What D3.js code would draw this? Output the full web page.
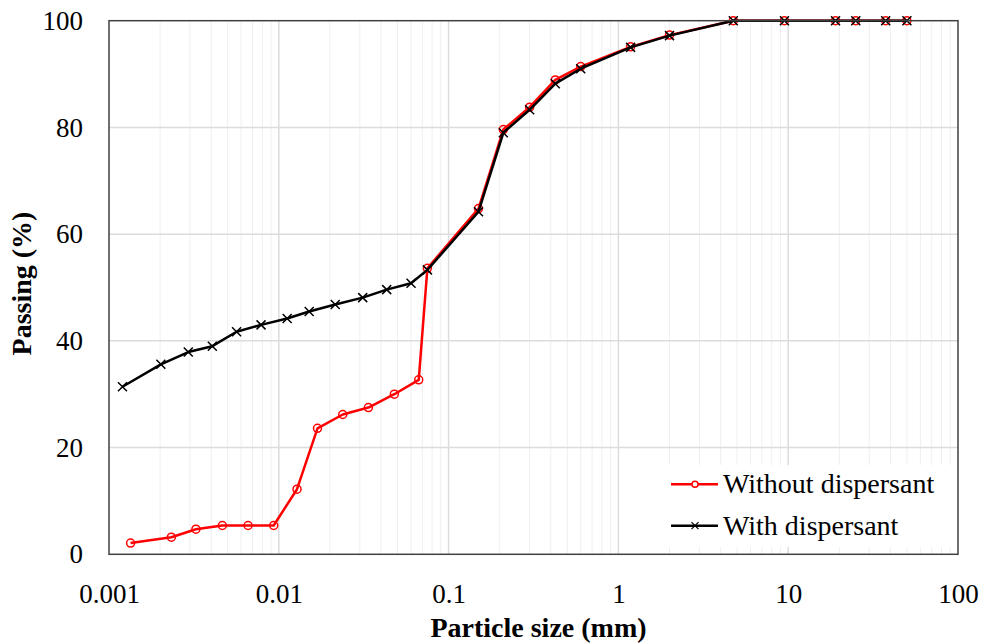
<!DOCTYPE html>
<html>
<head>
<meta charset="utf-8">
<script src="https://cdn.jsdelivr.net/npm/d3@7"></script>
<style>
  html, body { margin: 0; padding: 0; background: #fff; }
  svg { display: block; }
  text { font-family: "Liberation Serif", "Times New Roman", serif; fill: #000; }
</style>
</head>
<body>
<svg id="chart" width="984" height="644"></svg>
<script>
// ---- data ----
const seriesNames = ["Without dispersant", "With dispersant"];
const sizeWithout = [0.00134, 0.00233, 0.00325, 0.00465, 0.00659, 0.00933, 0.0128, 0.0169, 0.0238, 0.0337, 0.0479, 0.0667, 0.075, 0.15, 0.21, 0.3, 0.425, 0.6, 1.18, 2.0, 4.75, 9.5, 19, 25, 37.5, 50];
const passWithout = [2.1, 3.2, 4.7, 5.4, 5.4, 5.4, 12.2, 23.6, 26.2, 27.5, 30.0, 32.7, 53.6, 64.8, 79.6, 83.8, 88.9, 91.4, 95.1, 97.3, 100, 100, 100, 100, 100, 100];
const sizeWith = [0.0012, 0.00202, 0.00293, 0.00406, 0.00564, 0.00786, 0.0112, 0.0151, 0.0215, 0.0312, 0.0432, 0.0601, 0.075, 0.15, 0.21, 0.3, 0.425, 0.6, 1.18, 2.0, 4.75, 9.5, 19, 25, 37.5, 50];
const passWith = [31.4, 35.6, 37.9, 39.0, 41.7, 43.0, 44.2, 45.5, 46.8, 48.1, 49.6, 50.8, 53.3, 64.2, 79.0, 83.3, 88.2, 91.0, 95.0, 97.2, 100, 100, 100, 100, 100, 100];
const xTicks = [0.001, 0.01, 0.1, 1, 10, 100];
const xTickLabels = ["0.001", "0.01", "0.1", "1", "10", "100"];
const yTicks = [0, 20, 40, 60, 80, 100];
const xTitle = "Particle size (mm)";
const yTitle = "Passing (%)";

// ---- layout ----
const L = 109, R = 958, T = 20.7, B = 554.3;
const FONT = "'Liberation Serif', 'Times New Roman', serif";
const svg = d3.select("#chart");

const x = d3.scaleLog().domain([0.001, 100]).range([L, R]);
const y = d3.scaleLinear().domain([0, 100]).range([B, T]);

// minor grid
const minor = [];
for (let d = 0.001; d < 100; d *= 10) for (let k = 2; k <= 9; k++) minor.push(d * k);
svg.append("g").selectAll("line").data(minor).join("line")
  .attr("x1", d => x(d)).attr("x2", d => x(d)).attr("y1", T).attr("y2", B)
  .attr("stroke", "#efefef").attr("stroke-width", 1);
// major grid
svg.append("g").selectAll("line").data(xTicks.slice(1, -1)).join("line")
  .attr("x1", d => x(d)).attr("x2", d => x(d)).attr("y1", T).attr("y2", B)
  .attr("stroke", "#dcdcdc").attr("stroke-width", 1.5);
svg.append("g").selectAll("line").data(yTicks.slice(1, -1)).join("line")
  .attr("y1", d => y(d)).attr("y2", d => y(d)).attr("x1", L).attr("x2", R)
  .attr("stroke", "#dcdcdc").attr("stroke-width", 1.5);

// axes
const xAxis = svg.append("g").attr("transform", `translate(0,${B})`)
  .call(d3.axisBottom(x).tickValues(xTicks).tickFormat((d, i) => xTickLabels[i]).tickSize(0).tickPadding(30));
xAxis.attr("font-family", null);
xAxis.select(".domain").remove();
xAxis.selectAll("text").attr("font-size", 27).style("font-family", FONT);

const yAxis = svg.append("g").attr("transform", `translate(${L},0)`)
  .call(d3.axisLeft(y).tickValues(yTicks).tickFormat(d3.format("d")).tickSize(0).tickPadding(26));
yAxis.attr("font-family", null);
yAxis.select(".domain").remove();
yAxis.selectAll("text").attr("font-size", 27).style("font-family", FONT);

// titles
svg.append("text").attr("x", (L + R) / 2 + 5).attr("y", 637)
  .attr("text-anchor", "middle").attr("font-size", 28).attr("font-weight", "bold").style("font-family", FONT).text(xTitle);
svg.append("text").attr("transform", `translate(31,${(T + B) / 2 - 4}) rotate(-90)`)
  .attr("text-anchor", "middle").attr("font-size", 28).attr("font-weight", "bold").style("font-family", FONT).text(yTitle);

// series
const line = d3.line().x(d => x(d[0])).y(d => y(d[1]));
const dataWithout = sizeWithout.map((s, i) => [s, passWithout[i]]);
const dataWith = sizeWith.map((s, i) => [s, passWith[i]]);

function crossPath(cx, cy, s) {
  return `M${cx - s},${cy - s}L${cx + s},${cy + s}M${cx - s},${cy + s}L${cx + s},${cy - s}`;
}

svg.append("path").datum(dataWithout).attr("d", line)
  .attr("fill", "none").attr("stroke", "#ff0000").attr("stroke-width", 2.5).attr("stroke-linejoin", "round");
svg.append("g").selectAll("circle").data(dataWithout).join("circle")
  .attr("cx", d => x(d[0])).attr("cy", d => y(d[1])).attr("r", 4)
  .attr("fill", "none").attr("stroke", "#ff0000").attr("stroke-width", 1.5);

svg.append("path").datum(dataWith).attr("d", line)
  .attr("fill", "none").attr("stroke", "#000").attr("stroke-width", 2.5).attr("stroke-linejoin", "round");
svg.append("g").selectAll("path").data(dataWith).join("path")
  .attr("d", d => crossPath(x(d[0]), y(d[1]), 4.5))
  .attr("fill", "none").attr("stroke", "#000").attr("stroke-width", 1.5);

// legend
const lg = svg.append("g");
lg.append("rect").attr("x", 630).attr("y", 465).attr("width", R - 630 - 1).attr("height", 82).attr("fill", "#fff");
const legY = [484.3, 525.7];
lg.append("line").attr("x1", 671).attr("x2", 718).attr("y1", legY[0]).attr("y2", legY[0])
  .attr("stroke", "#ff0000").attr("stroke-width", 2.5);
lg.append("circle").attr("cx", 695).attr("cy", legY[0]).attr("r", 3)
  .attr("fill", "#fff").attr("stroke", "#ff0000").attr("stroke-width", 1.5);
lg.append("text").attr("x", 723).attr("y", legY[0] + 9).attr("font-size", 28).style("font-family", FONT).text(seriesNames[0]);
lg.append("line").attr("x1", 671).attr("x2", 718).attr("y1", legY[1]).attr("y2", legY[1])
  .attr("stroke", "#000").attr("stroke-width", 2.5);
lg.append("path").attr("d", crossPath(695, legY[1], 3.5))
  .attr("fill", "none").attr("stroke", "#000").attr("stroke-width", 1.2);
lg.append("text").attr("x", 723).attr("y", legY[1] + 9).attr("font-size", 28).style("font-family", FONT).text(seriesNames[1]);

// plot border
svg.append("rect").attr("x", L).attr("y", T).attr("width", R - L).attr("height", B - T)
  .attr("fill", "none").attr("stroke", "#404040").attr("stroke-width", 1.5);
</script>
</body>
</html>
